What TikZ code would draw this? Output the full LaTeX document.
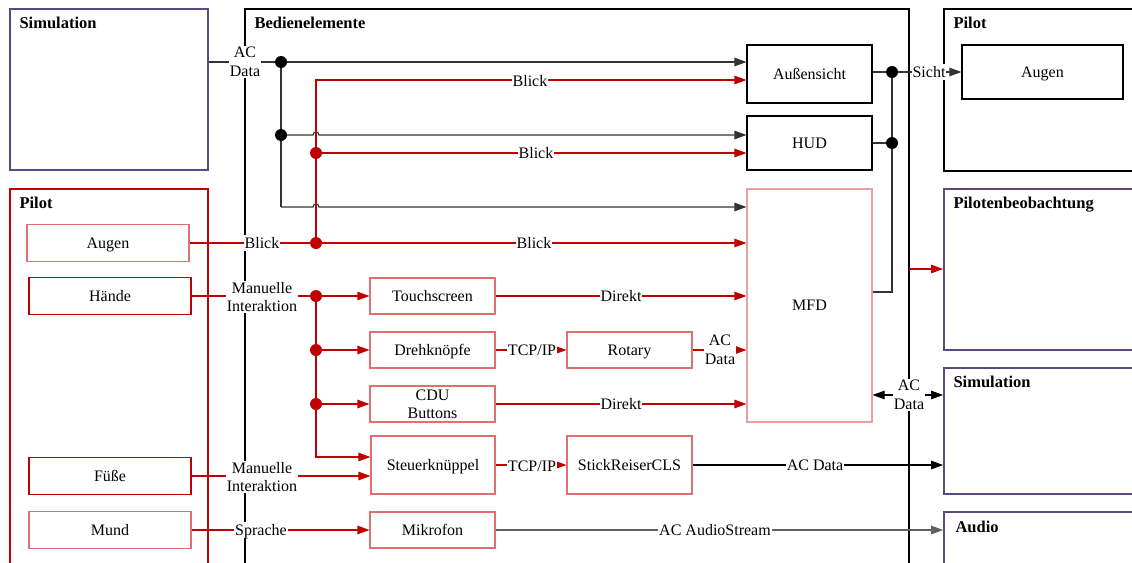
\documentclass[tikz,border=0pt]{standalone}
\usepackage{fontspec}
\setmainfont{Liberation Serif}
\usetikzlibrary{arrows.meta,calc}
\definecolor{pred}{HTML}{C00000}
\definecolor{lred}{HTML}{E07070}
\definecolor{llred}{HTML}{E8A0A0}
\definecolor{ppl}{HTML}{5B4A7A}
\definecolor{gline}{HTML}{606060}
\begin{document}
\begin{tikzpicture}[x=1pt,y=-1pt,
  font=\fontsize{16}{18.5}\selectfont,
  >={Triangle[length=12pt,width=8.5pt]},
  frame/.style={draw, line width=1.8pt, minimum width=#1, inner sep=0pt},
  ttl/.style={anchor=base west, font=\fontsize{16.5}{18}\selectfont\bfseries},
  bx/.style={draw, line width=1.1pt, inner sep=0pt, align=center, text height=12pt, text depth=2pt},
  lbl/.style={fill=white, inner sep=1pt, align=center, text height=12pt, text depth=2pt},
  ml/.style={text height=, text depth=},
  bl/.style={draw=black!80, line width=1.1pt},
  rl/.style={draw=pred, line width=1.1pt},
  rdot/.style={fill=pred},
  bdot/.style={fill=black}
]
\useasboundingbox (0,0) rectangle (1132,562);
\clip (0,0) rectangle (1132,562);

% big frames
\node[frame=198pt, draw=ppl, minimum height=161pt] (simL) at (109,89.5) {};
\node[frame=198pt, draw=pred, minimum height=391pt] (pilotL) at (109,384.5) {};
\node[frame=664pt, draw=black, minimum height=571pt] (bed) at (577,294.5) {};
\node[frame=196pt, draw=black, minimum height=162pt] (pilotR) at (1042,90) {};
\node[frame=196pt, draw=ppl, minimum height=161pt] (beob) at (1042,269.5) {};
\node[frame=196pt, draw=ppl, minimum height=126pt] (simR) at (1042,431) {};
\node[frame=196pt, draw=ppl, minimum height=68pt] (audio) at (1042,546) {};

\node[ttl] (tSimL) at (16,28) {Simulation};
\node[ttl] (tBed) at (251,28) {Bedienelemente};
\node[ttl] (tPilotL) at (16,208) {Pilot};
\node[ttl] (tPilotR) at (950,28) {Pilot};
\node[ttl] (tBeob) at (950,208) {Pilotenbeobachtung};
\node[ttl] (tSimR) at (950,387) {Simulation};
\node[ttl] (tAudio) at (952,532) {Audio};

% inner boxes
\node[bx, draw=black, minimum width=125pt, minimum height=58pt] (aussen) at (809.5,74) {Außensicht};
\node[bx, draw=black, minimum width=125pt, minimum height=54pt] (hud) at (809.5,143) {HUD};
\node[bx, draw=llred, minimum width=125pt, minimum height=233pt] (mfd) at (809.5,305.5) {MFD};
\node[bx, draw=black, minimum width=161pt, minimum height=54pt] (augenR) at (1042.5,72) {Augen};

\node[bx, draw=lred, minimum width=162pt, minimum height=37pt] (augenL) at (108,243) {Augen};
\node[bx, draw=pred, minimum width=162pt, minimum height=37pt] (haende) at (110,296) {Hände};
\node[bx, draw=pred, minimum width=162pt, minimum height=37pt] (fuesse) at (110,476) {Füße};
\node[bx, draw=lred, minimum width=162pt, minimum height=37pt] (mund) at (110,530) {Mund};

\node[bx, draw=lred, minimum width=125pt, minimum height=36pt] (touch) at (432.5,296) {Touchscreen};
\node[bx, draw=lred, minimum width=125pt, minimum height=36pt] (dreh) at (432.5,350) {Drehknöpfe};
\node[bx, draw=lred, minimum width=125pt, minimum height=36pt] (rotary) at (629.5,350) {Rotary};
\node[bx, ml, draw=lred, minimum width=125pt, minimum height=36pt, font=\fontsize{16}{18}\selectfont] (cdu) at (432.5,404) {CDU\\Buttons};
\node[bx, draw=lred, minimum width=124pt, minimum height=58pt] (steuer) at (433,465) {Steuerknüppel};
\node[bx, draw=lred, minimum width=125pt, minimum height=58pt] (stick) at (629.5,465) {StickReiserCLS};
\node[bx, draw=lred, minimum width=125pt, minimum height=36pt] (mikro) at (432.5,530) {Mikrofon};

% coordinates
\coordinate (d1) at (281,62);
\coordinate (d2) at (281,135);
\coordinate (d3) at (281,207);
\coordinate (r0) at (316,80);
\coordinate (r1) at (316,243);
\coordinate (r2) at (316,153);
\coordinate (h1) at (316,296);
\coordinate (h2) at (316,350);
\coordinate (h3) at (316,404);
\coordinate (h4) at (316,457);
\coordinate (s1) at (892,72);
\coordinate (s2) at (892,143);
\coordinate (s3) at (892,292);
\coordinate (b1) at (909,269);
\coordinate (m1) at (0,395);

% black connectors
\draw[bl] (simL.east |- d1) -- (d1);
\draw[bl,->] (d1) -- (d1 -| aussen.west);
\draw[bl] (d1) -- (d3);
\draw[bl,->] (d2) -- (313,135) arc[start angle=180,end angle=0,radius=3pt] -- (d2 -| hud.west);
\draw[bl,->] (d3) -- (313,207) arc[start angle=180,end angle=0,radius=3pt] -- (d3 -| mfd.west);

% red Blick connectors
\draw[rl] (augenL.east) -- (r1);
\draw[rl,->] (r1) -- (r1 -| mfd.west);
\draw[rl,->] (r1) -- (r0) -- (r0 -| aussen.west);
\draw[rl,->] (r2) -- (r2 -| hud.west);

% hands
\draw[rl] (haende.east) -- (h1);
\draw[rl,->] (h1) -- (touch.west);
\draw[rl,->] (h2) -- (dreh.west);
\draw[rl,->] (h3) -- (cdu.west);
\draw[rl,->] (h1) -- (h4) -- (h4 -| steuer.west);
\draw[rl,->] (fuesse.east) -- (fuesse.east -| steuer.west);
\draw[rl,->] (mund.east) -- (mikro.west);

\draw[rl,->] (touch.east) -- (touch.east -| mfd.west);
\draw[rl,->] (dreh.east) -- (rotary.west);
\draw[rl,->] (rotary.east) -- (rotary.east -| mfd.west);
\draw[rl,->] (cdu.east) -- (cdu.east -| mfd.west);
\draw[rl,->] (steuer.east) -- (stick.west);
\draw[bl,draw=black,->] (stick.east) -- (stick.east -| simR.west);
\draw[draw=gline, line width=1.3pt,->] (mikro.east) -- (mikro.east -| audio.west);
\draw[bl,draw=black,<->] (mfd.east |- m1) -- (simR.west |- m1);

% right side
\draw[bl] (aussen.east |- s1) -- (s1);
\draw[bl,->] (s1) -- (augenR.west);
\draw[bl] (hud.east) -- (s2);
\draw[bl] (s1) -- (s3) -- (s3 -| mfd.east);
\draw[rl,->] (b1) -- (b1 -| beob.west);

% dots
\fill[bdot] (d1) circle[radius=6pt];
\fill[bdot] (d2) circle[radius=6pt];
\fill[rdot] (r1) circle[radius=6pt];
\fill[rdot] (r2) circle[radius=6pt];
\fill[rdot] (h1) circle[radius=6pt];
\fill[rdot] (h2) circle[radius=6pt];
\fill[rdot] (h3) circle[radius=6pt];
\fill[bdot] (s1) circle[radius=6pt];
\fill[bdot] (s2) circle[radius=6pt];

% labels
\node[lbl, ml] (l1) at (245,62) {AC\\Data};
\node[lbl] (l2) at (530,81) {Blick};
\node[lbl] (l3) at (536,153) {Blick};
\node[lbl] (l4) at (262,243) {Blick};
\node[lbl] (l5) at (534,243) {Blick};
\node[lbl, ml] (l6) at (262,297) {Manuelle\\Interaktion};
\node[lbl] (l7) at (621,296) {Direkt};
\node[lbl] (l8) at (532,350) {TCP/IP};
\node[lbl, ml] (l9) at (720,350) {AC\\Data};
\node[lbl] (l10) at (621,404) {Direkt};
\node[lbl, ml] (l11) at (262,477) {Manuelle\\Interaktion};
\node[lbl] (l12) at (532,466) {TCP/IP};
\node[lbl] (l13) at (815,465) {AC Data};
\node[lbl] (l14) at (261,530) {Sprache};
\node[lbl] (l15) at (715,530) {AC AudioStream};
\node[lbl, ml] (l16) at (909,395) {AC\\Data};
\node[lbl] (l17) at (929,72) {Sicht};
\end{tikzpicture}
\end{document}
